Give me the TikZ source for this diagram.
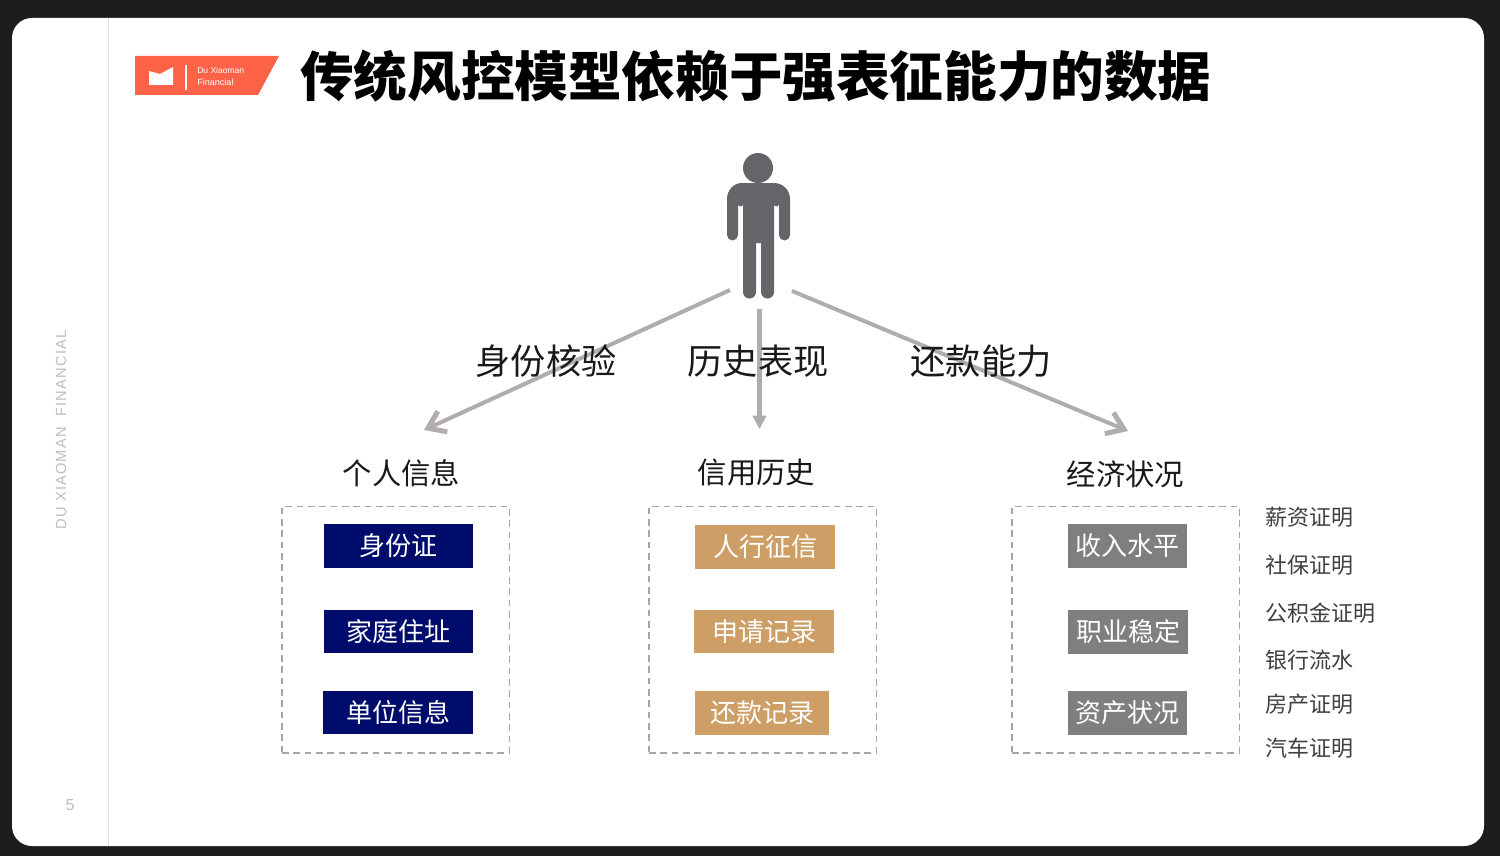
\documentclass[tikz,border=0pt]{standalone}
\usepackage{fontspec}
\usepackage{xcolor}
\usepackage{tikz}
\usetikzlibrary{arrows.meta,positioning,calc}
\setmainfont{Noto Sans CJK SC}
\newfontfamily\latinfont{Liberation Sans}
\newfontfamily\spacedfont[LetterSpace=8]{Liberation Sans}
\definecolor{FrameDark} {RGB}{ 27,  29,  31}
\definecolor{LogoRed}   {RGB}{255,  99,  71}
\definecolor{PersonGray}{RGB}{100, 101, 105}
\definecolor{ArrowGray} {RGB}{178, 173, 173}
\definecolor{BoxNavy}   {RGB}{  0,  12, 107}
\definecolor{BoxTan}    {RGB}{205, 158, 101}
\definecolor{BoxGray}   {RGB}{127, 127, 127}
\definecolor{SideGray}  {RGB}{190, 190, 190}
\tikzset{
  itembox/.style={text=white, font=\fontsize{19.5}{22}\selectfont, inner sep=0pt,
    minimum height=32.5pt},
  navybox/.style={itembox, fill=BoxNavy, minimum width=112pt},
  tanbox/.style={itembox, fill=BoxTan, minimum width=105pt},
  graybox/.style={itembox, fill=BoxGray, minimum width=89.5pt},
  groupbox/.style={draw=black!35, line width=1pt, dash pattern=on 5pt off 3.5pt, inner sep=0pt,
    minimum width=170.5pt, minimum height=185pt},
  grouptitle/.style={font=\fontsize{22}{26}\selectfont, text=black!90},
  factorlabel/.style={font=\fontsize{26.4}{30}\selectfont, text=black!90},
  sidelabel/.style={font=\fontsize{16.5}{20}\selectfont, text=black!75, anchor=west, inner sep=0pt},
  linkarrow/.style={draw=ArrowGray, line width=3pt,
    -{Straight Barb[length=12pt,width=17pt,line width=3.8pt,line join=miter]}},
  downarrow/.style={draw=ArrowGray, line width=3.6pt,
    -{Triangle[length=10pt,width=10pt]}},
}

\begin{document}
\begin{tikzpicture}[x=0.75pt,y=-0.75pt]
  \useasboundingbox (0,0) rectangle (1500,856);
  % slide and frame
  \fill[FrameDark] (0,0) rectangle (1500,856);
  \fill[white, rounded corners=15pt] (12,18) rectangle (1484,846);
  \draw[black!12, line width=0.8pt] (108.5,18) -- (108.5,846);
  \node[rotate=90, text=SideGray, font=\spacedfont\fontsize{11}{12}\selectfont] (sidetext) at (61,430)
    {DU XIAOMAN\ \ FINANCIAL};
  \node[text=SideGray, font=\latinfont\fontsize{12}{14}\selectfont] (pagenum) at (70,805) {5};

  % logo
  \fill[LogoRed] (135,56) -- (279,56) -- (258,95) -- (135,95) -- cycle;
  \fill[white] (149,71) -- (160,74) -- (173,67) -- (173,85) -- (161,85) -- (149,85) -- cycle;
  \draw[white, line width=0.8pt] (186,65) -- (186,90);
  \node[text=white, anchor=west, inner sep=0pt, font=\latinfont\fontsize{6.4}{7}\selectfont] (logotop) at (197,70) {Du Xiaoman};
  \node[text=white, anchor=west, inner sep=0pt, font=\latinfont\fontsize{6.8}{7}\selectfont] (logobot) at (197,82) {Financial};
  \node[anchor=west, inner sep=0pt, font=\bfseries\fontsize{40.2}{46}\selectfont] (title) at (300,76)
    {传统风控模型依赖于强表征能力的数据};

  % person
  \fill[PersonGray] (758,168) circle (15);
  \fill[PersonGray] (742,183) -- (774,183) to[out=0,in=90] (790,199) -- (790,235)
    arc[start angle=0,end angle=180,radius=5.5] -- (779,204)
    arc[start angle=0,end angle=180,radius=2.5] -- (774,292)
    arc[start angle=0,end angle=180,radius=6.5] -- (761,243) -- (756,243) -- (756,292)
    arc[start angle=0,end angle=180,radius=6.5] -- (743,204)
    arc[start angle=0,end angle=180,radius=2.5] -- (738,235)
    arc[start angle=0,end angle=180,radius=5.5] -- (727,199) to[out=90,in=180] cycle;

  % arrow ends
  \coordinate (leftstart) at (730,290);
  \coordinate (leftend) at (424,430);
  \coordinate (midstart) at (759.5,309);
  \coordinate (midend) at (759.5,429);
  \coordinate (rightstart) at (792,291);
  \coordinate (rightend) at (1128,431);
  \draw[linkarrow] (leftstart) -- (leftend);
  \draw[downarrow] (midstart) -- (midend);
  \draw[linkarrow] (rightstart) -- (rightend);

  \node[factorlabel] (identity) at (546,361) {身份核验};
  \node[factorlabel] (history) at (758,361) {历史表现};
  \node[factorlabel] (ability) at (981,361) {还款能力};

  \node[grouptitle] (infotitle) at (401.5,473.5) {个人信息};
  \node[grouptitle] (credittitle) at (756.5,472.5) {信用历史};
  \node[grouptitle] (econtitle) at (1125.5,474.5) {经济状况};

  \node[groupbox] (infogroup) at (395.7,629.5) {};
  \node[groupbox] (creditgroup) at (762.7,629.5) {};
  \node[groupbox] (econgroup) at (1125.7,629.5) {};

  \node[navybox] (idcard) at (398.5,546) {身份证};
  \node[navybox] (address) at (398.5,631.5) {家庭住址};
  \node[navybox] (employer) at (398,712.5) {单位信息};

  \node[tanbox] (pboc) at (765,547) {人行征信};
  \node[tanbox] (applyrec) at (764,631.5) {申请记录};
  \node[tanbox, minimum width=100pt] (repayrec) at (762,713) {还款记录};

  \node[graybox] (income) at (1127.5,546) {收入水平};
  \node[graybox] (jobs) at (1128,632) {职业稳定};
  \node[graybox] (assets) at (1127.5,713) {资产状况};

  \node[sidelabel] (salary) at (1265,517) {薪资证明};
  \node[sidelabel] (social) at (1265,565) {社保证明};
  \node[sidelabel] (fund) at (1265,613) {公积金证明};
  \node[sidelabel] (bank) at (1265,660.5) {银行流水};
  \node[sidelabel] (house) at (1265,704) {房产证明};
  \node[sidelabel] (car) at (1265,748) {汽车证明};
\end{tikzpicture}
\end{document}
